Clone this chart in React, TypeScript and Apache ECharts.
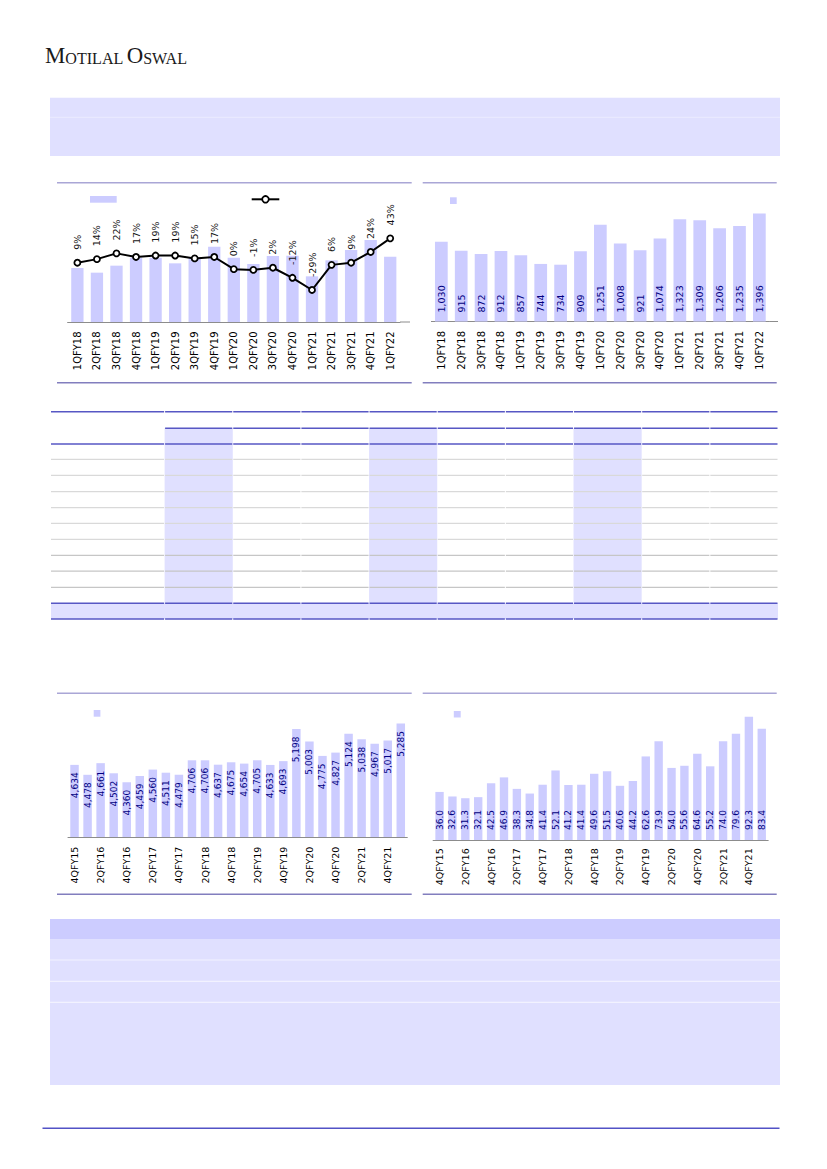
import React, { useEffect, useRef } from "react";
import * as echarts from "echarts";

// ---------- data ----------
const qtrCats = ["1QFY18","2QFY18","3QFY18","4QFY18","1QFY19","2QFY19","3QFY19","4QFY19","1QFY20","2QFY20","3QFY20","4QFY20","1QFY21","2QFY21","3QFY21","4QFY21","1QFY22"];
const volumeValues = [16.2,14.8,16.9,19.3,19.3,17.6,19.4,22.6,19.3,17.4,19.8,19.9,13.7,18.5,21.6,24.6,19.6];
const volumeGrowth = [9,14,22,17,19,19,15,17,0,-1,2,-12,-29,6,9,24,43];
const ebitdaValues = [1030,915,872,912,857,744,734,909,1251,1008,921,1074,1323,1309,1206,1235,1396];

const longCats = ["4QFY15","1QFY16","2QFY16","3QFY16","4QFY16","1QFY17","2QFY17","3QFY17","4QFY17","1QFY18","2QFY18","3QFY18","4QFY18","1QFY19","2QFY19","3QFY19","4QFY19","1QFY20","2QFY20","3QFY20","4QFY20","1QFY21","2QFY21","3QFY21","4QFY21","1QFY22"];
const realizationValues = [4634,4478,4661,4502,4360,4459,4560,4511,4479,4706,4706,4637,4675,4654,4705,4633,4693,5198,5003,4775,4827,5124,5038,4967,5017,5285];
const profitValues = [36.0,32.6,31.3,32.1,42.5,46.9,38.3,34.8,41.4,52.1,41.2,41.4,49.6,51.5,40.6,44.2,62.6,73.9,54.0,55.6,64.6,55.2,74.0,79.6,92.3,83.4];

// ---------- styles ----------
const FONT = "DejaVu Sans";
const BAR = "#ccccff";
const SHADE = "#e0e0ff";
const LABEL_NAVY = "#000080";
const FRAME_TOP = "#aaa6d6";
const FRAME_BOTTOM = "#827ebe";
const TABLE_BLUE = "#5757c4";

function line(x1: number, y1: number, x2: number, y2: number, stroke: string, lineWidth: number) {
  return { type: "line", silent: true, shape: { x1, y1, x2, y2 }, style: { stroke, lineWidth } };
}
function rect(x: number, y: number, width: number, height: number, fill: string) {
  return { type: "rect", silent: true, shape: { x, y, width, height }, style: { fill } };
}

function buildGraphics() {
  const g: any[] = [];
  // header logo
  g.push({
    type: "text",
    x: 45,
    y: 43.5,
    style: {
      text: "{a|M}{b|OTILAL} {a|O}{b|SWAL}",
      textVerticalAlign: "top",
      rich: {
        a: { fontSize: 22.8, fontFamily: "Liberation Serif", fill: "#1a1a1a", verticalAlign: "bottom" },
        b: { fontSize: 16.1, fontFamily: "Liberation Serif", fill: "#1a1a1a", verticalAlign: "bottom" },
      },
    },
  });
  // top box
  g.push(rect(50, 97.7, 730, 58.3, SHADE));
  g.push(line(50, 117.3, 780, 117.3, "#ececff", 1));

  // chart frames
  g.push(line(57, 182.7, 411.7, 182.7, FRAME_TOP, 1.6));
  g.push(line(57, 382.7, 411.7, 382.7, FRAME_BOTTOM, 1.6));
  g.push(line(422.7, 182.7, 776.7, 182.7, FRAME_TOP, 1.6));
  g.push(line(422.7, 382.7, 776.7, 382.7, FRAME_BOTTOM, 1.6));
  g.push(line(57, 693.3, 411.7, 693.3, FRAME_TOP, 1.6));
  g.push(line(57, 894.3, 411.7, 894.3, FRAME_BOTTOM, 1.6));
  g.push(line(422.7, 693.3, 776.7, 693.3, FRAME_TOP, 1.6));
  g.push(line(422.7, 894.3, 776.7, 894.3, FRAME_BOTTOM, 1.6));

  // axis extensions (plot area wider than category band)
  g.push(line(400, 322, 410, 322, "#8c8c8c", 1));
  g.push(line(769.3, 321.5, 778, 321.5, "#8c8c8c", 1));

  // legends
  g.push(rect(90, 196, 26.7, 6.7, BAR));
  g.push(line(251.7, 199.3, 279.3, 199.3, "#000", 2));
  g.push({ type: "circle", silent: true, shape: { cx: 265.5, cy: 199.3, r: 3.3 }, style: { fill: "#fff", stroke: "#000", lineWidth: 1.8 } });
  g.push(rect(450, 197.3, 6.7, 6.7, BAR));
  g.push(rect(93.7, 710, 6.7, 6.7, BAR));
  g.push(rect(453.8, 711, 6.9, 6.5, BAR));

  // table
  const tx0 = 51, tx1 = 778;
  const colStart = 164.6;
  const colW = (tx1 - colStart) / 9;
  const colEdges: number[] = [];
  for (let i = 0; i <= 9; i++) colEdges.push(colStart + i * colW);
  [0, 3, 6].forEach((c) => g.push(rect(colEdges[c], 428.3, colW, 603.3 - 428.3, SHADE)));
  g.push(rect(tx0, 603.3, tx1 - tx0, 619 - 603.3, SHADE));
  const segLine = (y: number, stroke: string, w: number, fromCol: boolean) => {
    if (!fromCol) g.push(line(tx0, y, colStart - 0.5, y, stroke, w));
    for (let i = 0; i < 9; i++) g.push(line(colEdges[i] + 0.5, y, colEdges[i + 1] - 0.5, y, stroke, w));
  };
  segLine(411.7, TABLE_BLUE, 1.4, false);
  segLine(428.3, TABLE_BLUE, 1.4, true);
  segLine(444, TABLE_BLUE, 1.4, false);
  [459.3, 475.3, 491.7, 507.7, 523.3, 539.3].forEach((y) => segLine(y, "#d9d9d9", 1.3, false));
  [555.3, 571.2, 587.3].forEach((y) => segLine(y, "#c6c6c6", 1.3, false));
  segLine(603.3, TABLE_BLUE, 1.4, false);
  segLine(619, TABLE_BLUE, 1.4, false);

  // bottom box
  g.push(rect(50, 919, 730, 166, SHADE));
  g.push(rect(50, 919, 730, 20, BAR));
  [960, 981.3, 1002.3].forEach((y) => g.push(line(50, y, 780, y, "#f2f2ff", 1.2)));

  // footer rule
  g.push(line(42.5, 1128.3, 779.5, 1128.3, "#5252c6", 1.5));
  return g;
}

function catAxis(gridIndex: number, data: string[], fontSize: number, margin: number, interval: number) {
  return {
    type: "category",
    gridIndex,
    data,
    boundaryGap: true,
    axisLine: { show: true, lineStyle: { color: "#8c8c8c", width: 1 } },
    axisTick: { show: false },
    splitLine: { show: false },
    axisLabel: { rotate: 90, fontSize, fontFamily: FONT, color: "#000", margin, interval },
  };
}
function valAxis(gridIndex: number, min: number, max: number) {
  return { type: "value", gridIndex, min, max, show: false, splitLine: { show: false } };
}

export default function App() {
  const ref = useRef<HTMLDivElement>(null);
  useEffect(() => {
    if (!ref.current) return;
    const chart = echarts.init(ref.current, undefined, { renderer: "svg" });
    const thousands = (p: any) => Number(p.value).toLocaleString("en-US");
    chart.setOption({
      animation: false,
      backgroundColor: "#ffffff",
      textStyle: { fontFamily: FONT },
      grid: [
        { left: 67.6, top: 202, width: 332.4, height: 120 },
        { left: 431.4, top: 197.7, width: 337.9, height: 123.8 },
        { left: 68, top: 709.8, width: 339.3, height: 127.2 },
        { left: 433.1, top: 706.5, width: 335.1, height: 133.5 },
      ],
      xAxis: [
        catAxis(0, qtrCats, 10, 9.4, 0),
        catAxis(1, qtrCats, 10, 9.4, 0),
        catAxis(2, longCats, 9.5, 9.6, 1),
        catAxis(3, longCats, 9.5, 8.3, 1),
      ],
      yAxis: [
        valAxis(0, 0, 36),
        valAxis(0, -73.6, 93.6),
        valAxis(1, 0, 1600),
        valAxis(2, 3500, 5500),
        valAxis(3, 0, 100),
      ],
      series: [
        {
          type: "bar",
          xAxisIndex: 0,
          yAxisIndex: 0,
          data: volumeValues,
          barWidth: "63%",
          itemStyle: { color: BAR },
        },
        {
          type: "line",
          xAxisIndex: 0,
          yAxisIndex: 1,
          data: volumeGrowth,
          symbol: "circle",
          symbolSize: 6,
          lineStyle: { color: "#000", width: 2 },
          itemStyle: { color: "#fff", borderColor: "#000", borderWidth: 1.8 },
          label: {
            show: true,
            position: "top",
            distance: 9,
            rotate: 90,
            align: "left",
            verticalAlign: "middle",
            fontSize: 9.5,
            fontFamily: FONT,
            color: "#111",
            formatter: (p: any) => p.value + "%",
          },
        },
        {
          type: "bar",
          xAxisIndex: 1,
          yAxisIndex: 2,
          data: ebitdaValues,
          barWidth: "64%",
          itemStyle: { color: BAR },
          label: {
            show: true,
            position: "insideBottom",
            distance: 9,
            rotate: 90,
            align: "left",
            verticalAlign: "middle",
            fontSize: 9.5,
            fontFamily: FONT,
            color: LABEL_NAVY,
            formatter: thousands,
          },
        },
        {
          type: "bar",
          xAxisIndex: 2,
          yAxisIndex: 3,
          data: realizationValues,
          barWidth: "65%",
          itemStyle: { color: BAR },
          label: {
            show: true,
            position: "insideTop",
            distance: 7.5,
            rotate: 90,
            align: "right",
            verticalAlign: "middle",
            fontSize: 9,
            fontFamily: FONT,
            color: LABEL_NAVY,
            formatter: thousands,
          },
        },
        {
          type: "bar",
          xAxisIndex: 3,
          yAxisIndex: 4,
          data: profitValues,
          barWidth: "65%",
          itemStyle: { color: BAR },
          label: {
            show: true,
            position: "insideBottom",
            distance: 10,
            rotate: 90,
            align: "left",
            verticalAlign: "middle",
            fontSize: 9,
            fontFamily: FONT,
            color: LABEL_NAVY,
            formatter: (p: any) => Number(p.value).toFixed(1),
          },
        },
      ],
      graphic: buildGraphics(),
    });
    return () => chart.dispose();
  }, []);
  return (
    <div
      ref={ref}
      style={{ position: "absolute", left: 0, top: 0, width: 827, height: 1169, background: "#fff" }}
    />
  );
}
